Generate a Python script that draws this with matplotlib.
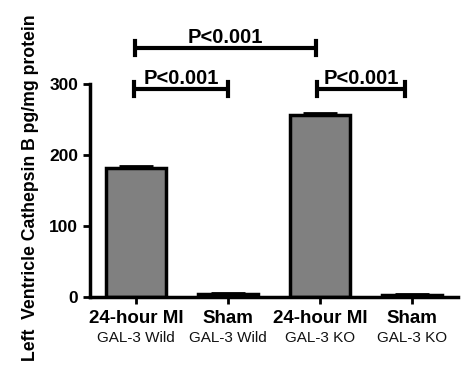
import numpy as np
import matplotlib
matplotlib.use('Agg')
import matplotlib.pyplot as plt
import matplotlib.transforms as mtransforms

plt.rcParams['font.family'] = ['Liberation Sans', 'DejaVu Sans']

# data
groups = ['24-hour MI', 'Sham', '24-hour MI', 'Sham']
subgroups = ['GAL-3 Wild', 'GAL-3 Wild', 'GAL-3 KO', 'GAL-3 KO']
values = [182, 4, 256, 3]
errors = [2, 1.5, 3, 1]
fills = ['#808080', 'white', '#808080', 'white']
# comparisons: (left bar, right bar, bracket height, label)
comparisons = [(0, 1, 293, 'P<0.001'), (2, 3, 293, 'P<0.001'), (0, 2, 351, 'P<0.001')]
# small horizontal nudges of the bracket ends (in bar units)
nudges = [(-0.02, 0.0), (-0.03, -0.08), (-0.01, -0.04)]

fig = plt.figure(figsize=(4.62, 3.91), dpi=100)
ax = fig.add_axes([0.195, 0.240, 0.796, 0.545])

x = np.arange(len(values))
ax.bar(x, values, width=0.66, color=fills, edgecolor='black', linewidth=2.5, zorder=2)
ax.errorbar(x, values, yerr=[np.zeros(len(errors)), errors], fmt='none', ecolor='black',
            elinewidth=2, capsize=12, capthick=2, zorder=3)

ax.set_xlim(-0.5, 3.5)
ax.set_ylim(0, 300)
ax.set_yticks([0, 100, 200, 300])
ax.set_yticklabels(['0', '100', '200', '300'], fontsize=12.5, fontweight='bold')
ax.set_xticks(x)
ax.set_xticklabels([])
ax.tick_params(axis='both', direction='out', length=5, width=2)
for s in ['top', 'right']:
    ax.spines[s].set_visible(False)
for s in ['left', 'bottom']:
    ax.spines[s].set_linewidth(2.5)

trans = mtransforms.blended_transform_factory(ax.transData, ax.transAxes)
for i in range(len(groups)):
    ax.text(x[i], -0.099, groups[i], transform=trans, ha='center', va='center',
            fontsize=13.5, fontweight='bold')
    ax.text(x[i], -0.192, subgroups[i], transform=trans, ha='center', va='center',
            fontsize=11, color='#111111')

for (a, b, h, lab), (da, db) in zip(comparisons, nudges):
    xa, xb = x[a] + da, x[b] + db
    ax.plot([xa, xb], [h, h], color='black', lw=3, clip_on=False, solid_capstyle='butt')
    ax.plot([xa, xa], [h - 10, h + 10], color='black', lw=3, clip_on=False)
    ax.plot([xb, xb], [h - 10, h + 10], color='black', lw=3, clip_on=False)
    ax.text((xa + xb) / 2, h + 15, lab, ha='center', va='center', fontsize=14.5,
            fontweight='bold', clip_on=False)

fig.text(0.065, 0.519, 'Left  Ventricle Cathepsin B pg/mg protein', rotation=90,
         ha='center', va='center', fontsize=12.7, fontweight='bold')

fig.savefig('out.png', dpi=100)
